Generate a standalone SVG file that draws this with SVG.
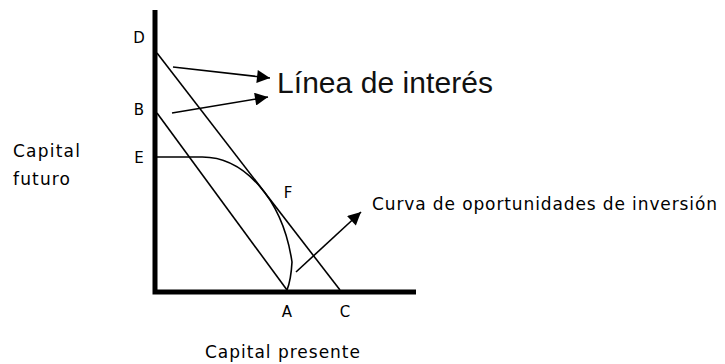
<svg xmlns="http://www.w3.org/2000/svg" width="725" height="364" viewBox="0 0 725 364">
<defs>
<marker id="ah" viewBox="0 0 10 10" refX="10" refY="5" markerWidth="16" markerHeight="13" markerUnits="userSpaceOnUse" orient="auto">
<path d="M0,0 L10,5 L0,10 z" fill="#000"/>
</marker>
<style>
.ln{stroke:#000;stroke-width:1.6;fill:none}
.ax{stroke:#000;stroke-width:5;fill:none}
.lbl{font-family:"DejaVu Sans","Liberation Sans",sans-serif;font-size:15px;fill:#000}
.txt{font-family:"DejaVu Sans","Liberation Sans",sans-serif;font-size:17px;fill:#000}
.big{font-family:"Liberation Sans",Arial,sans-serif;font-size:30px;fill:#111}
</style>
</defs>
<rect width="725" height="364" fill="#fff"/>
<g id="axes">
<path class="ax" d="M155,10 L155,292 L416,292"/>
</g>
<g id="lines">
<path class="ln" d="M157,53 L340,290"/>
<path class="ln" d="M157,113 L287,290"/>
<path class="ln" d="M157,157 L200,157 A92,133 0 0 1 292,262 Q291,280 287,290"/>
</g>
<g id="connectors">
<path class="ln" d="M173,67 L270,78" marker-end="url(#ah)"/>
<path class="ln" d="M172,113 L268,97" marker-end="url(#ah)"/>
<path class="ln" d="M296,272 L361,212" marker-end="url(#ah)"/>
</g>
<g id="labels">
<text class="lbl" x="139" y="43" text-anchor="middle">D</text>
<text class="lbl" x="139" y="115" text-anchor="middle">B</text>
<text class="lbl" x="139" y="163" text-anchor="middle">E</text>
<text class="lbl" x="288" y="198" text-anchor="middle">F</text>
<text class="lbl" x="287" y="317" text-anchor="middle">A</text>
<text class="lbl" x="345" y="317" text-anchor="middle">C</text>
</g>
<g id="text">
<text class="big" x="277" y="93" textLength="216">Línea de interés</text>
<text class="txt" x="372" y="210" textLength="345">Curva de oportunidades de inversión</text>
<text class="txt" x="13" y="157" textLength="67">Capital</text>
<text class="txt" x="13" y="185" textLength="57">futuro</text>
<text class="txt" x="205" y="358" textLength="155">Capital presente</text>
</g>
</svg>
